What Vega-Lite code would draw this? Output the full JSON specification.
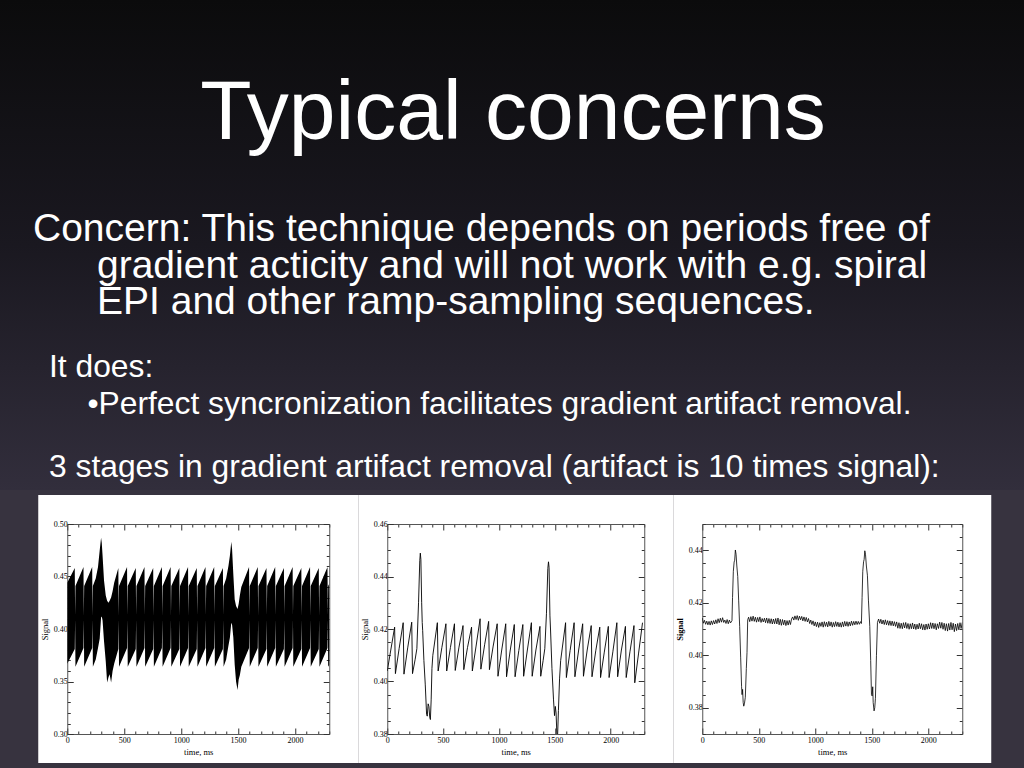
{
  "$schema": "https://vega.github.io/schema/vega-lite/v6.json",
  "background": "#37333f",
  "padding": {"left": 0, "top": 0, "right": 0, "bottom": 12},
  "center": true,
  "spacing": 1,
  "config": {"view": {"stroke": null}},
  "vconcat": [
    {
      "width": 1059,
      "height": 490,
      "layer": [
        {
          "data": {"values": [{"panel": "slide"}]},
          "mark": {"type": "rect", "color": {"gradient": "linear", "x1": 0, "y1": 0, "x2": 0, "y2": 1, "stops": [{"offset": 0, "color": "#0b0b0c"}, {"offset": 0.5, "color": "#1a1820"}, {"offset": 1, "color": "#322e3c"}]}},
          "encoding": {}
        },
        {
          "data": {"values": [
            {"kind": "title", "text": "Typical concerns", "line": 0, "indent": 15},
            {"kind": "concern", "text": "Concern: This technique depends on periods free of", "line": 3, "indent": 0},
            {"kind": "concern", "text": "gradient acticity and will not work with e.g. spiral", "line": 4.1, "indent": 2},
            {"kind": "concern", "text": "EPI and other ramp-sampling sequences.", "line": 5.15, "indent": 2},
            {"kind": "body", "text": "It does:", "line": 7, "indent": 0.5},
            {"kind": "body", "text": "•Perfect syncronization facilitates gradient artifact removal.", "line": 8.08, "indent": 1.7},
            {"kind": "body", "text": "3 stages in gradient artifact removal (artifact is 10 times signal):", "line": 9.95, "indent": 0.5}
          ]},
          "encoding": {
            "x": {"field": "indent", "type": "quantitative", "scale": {"domain": [-1.03125, 32.0625], "nice": false, "zero": false}, "axis": null},
            "y": {"field": "line", "type": "quantitative", "scale": {"domain": [-4.069, 10.317], "reverse": true, "nice": false, "zero": false}, "axis": null},
            "text": {"field": "text"}
          },
          "layer": [
            {"transform": [{"filter": "datum.kind === 'title'"}], "mark": {"type": "text", "align": "center", "baseline": "alphabetic", "font": "Liberation Sans", "fontSize": 84, "color": "white"}},
            {"transform": [{"filter": "datum.kind === 'concern'"}], "mark": {"type": "text", "align": "left", "baseline": "alphabetic", "font": "Liberation Sans", "fontSize": 39, "color": "white"}},
            {"transform": [{"filter": "datum.kind === 'body'"}], "mark": {"type": "text", "align": "left", "baseline": "alphabetic", "font": "Liberation Sans", "fontSize": 31.8, "color": "white"}}
          ]
        }
      ]
    },
    {
      "hconcat": [
        {
          "width": 262,
          "height": 210,
          "view": {"fill": "white", "stroke": "white", "strokeWidth": 58},
          "data": {"values": [
            {"t": 0, "hi": 0.444, "lo": 0.367},
            {"t": 66, "hi": 0.458, "lo": 0.381}, {"t": 69, "hi": 0.413, "lo": 0.409}, {"t": 72, "hi": 0.441, "lo": 0.364},
            {"t": 142.5, "hi": 0.459, "lo": 0.382}, {"t": 145.5, "hi": 0.413, "lo": 0.409}, {"t": 148.5, "hi": 0.441, "lo": 0.364},
            {"t": 219, "hi": 0.459, "lo": 0.382}, {"t": 222, "hi": 0.413, "lo": 0.409}, {"t": 225, "hi": 0.441, "lo": 0.364},
            {"t": 250, "hi": 0.448, "lo": 0.371}, {"t": 270, "hi": 0.459, "lo": 0.382}, {"t": 285, "hi": 0.475, "lo": 0.391},
            {"t": 297, "hi": 0.487, "lo": 0.411}, {"t": 303, "hi": 0.482, "lo": 0.412}, {"t": 310, "hi": 0.47, "lo": 0.408},
            {"t": 323, "hi": 0.446, "lo": 0.388}, {"t": 338, "hi": 0.432, "lo": 0.369}, {"t": 350, "hi": 0.427, "lo": 0.349},
            {"t": 362, "hi": 0.425, "lo": 0.354}, {"t": 372, "hi": 0.427, "lo": 0.357}, {"t": 385, "hi": 0.43, "lo": 0.349},
            {"t": 398, "hi": 0.436, "lo": 0.36}, {"t": 412, "hi": 0.444, "lo": 0.367},
            {"t": 448.5, "hi": 0.458, "lo": 0.381}, {"t": 451.5, "hi": 0.413, "lo": 0.409}, {"t": 454.5, "hi": 0.441, "lo": 0.364},
            {"t": 525, "hi": 0.459, "lo": 0.382}, {"t": 528, "hi": 0.413, "lo": 0.409}, {"t": 531, "hi": 0.441, "lo": 0.364},
            {"t": 601.5, "hi": 0.458, "lo": 0.381}, {"t": 604.5, "hi": 0.413, "lo": 0.409}, {"t": 607.5, "hi": 0.441, "lo": 0.364},
            {"t": 678, "hi": 0.459, "lo": 0.382}, {"t": 681, "hi": 0.413, "lo": 0.409}, {"t": 684, "hi": 0.441, "lo": 0.364},
            {"t": 754.5, "hi": 0.458, "lo": 0.381}, {"t": 757.5, "hi": 0.413, "lo": 0.409}, {"t": 760.5, "hi": 0.441, "lo": 0.364},
            {"t": 831, "hi": 0.459, "lo": 0.382}, {"t": 834, "hi": 0.413, "lo": 0.409}, {"t": 837, "hi": 0.441, "lo": 0.364},
            {"t": 907.5, "hi": 0.459, "lo": 0.382}, {"t": 910.5, "hi": 0.413, "lo": 0.409}, {"t": 913.5, "hi": 0.441, "lo": 0.364},
            {"t": 984, "hi": 0.458, "lo": 0.381}, {"t": 987, "hi": 0.413, "lo": 0.409}, {"t": 990, "hi": 0.441, "lo": 0.364},
            {"t": 1060.5, "hi": 0.459, "lo": 0.382}, {"t": 1063.5, "hi": 0.413, "lo": 0.409}, {"t": 1066.5, "hi": 0.441, "lo": 0.364},
            {"t": 1137, "hi": 0.458, "lo": 0.381}, {"t": 1140, "hi": 0.413, "lo": 0.409}, {"t": 1143, "hi": 0.441, "lo": 0.364},
            {"t": 1213.5, "hi": 0.459, "lo": 0.382}, {"t": 1216.5, "hi": 0.413, "lo": 0.409}, {"t": 1219.5, "hi": 0.441, "lo": 0.364},
            {"t": 1290, "hi": 0.459, "lo": 0.382}, {"t": 1293, "hi": 0.413, "lo": 0.409}, {"t": 1296, "hi": 0.441, "lo": 0.364},
            {"t": 1366.5, "hi": 0.458, "lo": 0.381}, {"t": 1369.5, "hi": 0.413, "lo": 0.409}, {"t": 1372.5, "hi": 0.441, "lo": 0.364},
            {"t": 1395, "hi": 0.448, "lo": 0.371}, {"t": 1415, "hi": 0.46, "lo": 0.384}, {"t": 1428, "hi": 0.47, "lo": 0.392},
            {"t": 1440, "hi": 0.483, "lo": 0.406}, {"t": 1447, "hi": 0.476, "lo": 0.404}, {"t": 1458, "hi": 0.452, "lo": 0.392},
            {"t": 1470, "hi": 0.428, "lo": 0.366}, {"t": 1482, "hi": 0.422, "lo": 0.35}, {"t": 1495, "hi": 0.419, "lo": 0.342},
            {"t": 1505, "hi": 0.424, "lo": 0.352}, {"t": 1515, "hi": 0.432, "lo": 0.356}, {"t": 1528, "hi": 0.44, "lo": 0.364},
            {"t": 1596, "hi": 0.459, "lo": 0.382}, {"t": 1599, "hi": 0.413, "lo": 0.409}, {"t": 1602, "hi": 0.441, "lo": 0.364},
            {"t": 1672.5, "hi": 0.459, "lo": 0.382}, {"t": 1675.5, "hi": 0.413, "lo": 0.409}, {"t": 1678.5, "hi": 0.441, "lo": 0.364},
            {"t": 1749, "hi": 0.458, "lo": 0.381}, {"t": 1752, "hi": 0.413, "lo": 0.409}, {"t": 1755, "hi": 0.441, "lo": 0.364},
            {"t": 1825.5, "hi": 0.459, "lo": 0.382}, {"t": 1828.5, "hi": 0.413, "lo": 0.409}, {"t": 1831.5, "hi": 0.441, "lo": 0.364},
            {"t": 1902, "hi": 0.458, "lo": 0.381}, {"t": 1905, "hi": 0.413, "lo": 0.409}, {"t": 1908, "hi": 0.441, "lo": 0.364},
            {"t": 1978.5, "hi": 0.459, "lo": 0.382}, {"t": 1981.5, "hi": 0.413, "lo": 0.409}, {"t": 1984.5, "hi": 0.441, "lo": 0.364},
            {"t": 2055, "hi": 0.458, "lo": 0.381}, {"t": 2058, "hi": 0.413, "lo": 0.409}, {"t": 2061, "hi": 0.441, "lo": 0.364},
            {"t": 2131.5, "hi": 0.459, "lo": 0.382}, {"t": 2134.5, "hi": 0.413, "lo": 0.409}, {"t": 2137.5, "hi": 0.441, "lo": 0.364},
            {"t": 2208, "hi": 0.458, "lo": 0.381}, {"t": 2211, "hi": 0.413, "lo": 0.409}, {"t": 2214, "hi": 0.441, "lo": 0.364},
            {"t": 2284.5, "hi": 0.459, "lo": 0.382}, {"t": 2287.5, "hi": 0.413, "lo": 0.409}, {"t": 2290.5, "hi": 0.441, "lo": 0.364},
            {"t": 2300, "hi": 0.443, "lo": 0.366}
          ]},
          "resolve": {"axis": {"x": "independent", "y": "independent"}},
          "layer": [
            {
              "mark": {"type": "area", "color": "black", "clip": true},
              "encoding": {
                "x": {"field": "t", "type": "quantitative", "scale": {"domain": [0, 2300], "nice": false, "zero": false},
                  "axis": {"orient": "bottom", "title": "time, ms", "values": [0,100,200,300,400,500,600,700,800,900,1000,1100,1200,1300,1400,1500,1600,1700,1800,1900,2000,2100,2200,2300], "format": "d", "labelExpr": "datum.value % 500 === 0 ? datum.label : ''", "tickSize": {"condition": {"test": "datum.value % 500 === 0", "value": -6}, "value": -3}, "labelOverlap": false, "labelFlush": false, "grid": false, "domainColor": "#555", "tickColor": "#333", "labelFont": "Liberation Serif", "labelFontSize": 8, "labelColor": "black", "labelPadding": 8, "titleFont": "Liberation Serif", "titleFontSize": 8.5, "titleFontWeight": "normal", "titleColor": "black", "titlePadding": 0}},
                "y": {"field": "hi", "type": "quantitative", "scale": {"domain": [0.3, 0.5], "nice": false, "zero": false},
                  "axis": {"orient": "left", "title": "Signal", "values": [0.3,0.31,0.32,0.33,0.34,0.35,0.36,0.37,0.38,0.39,0.4,0.41,0.42,0.43,0.44,0.45,0.46,0.47,0.48,0.49,0.5], "format": ".2f", "labelExpr": "abs(datum.value*20 - round(datum.value*20)) < 0.001 ? datum.label : ''", "tickSize": {"condition": {"test": "abs(datum.value*20 - round(datum.value*20)) < 0.001", "value": -6}, "value": -3}, "labelOverlap": false, "labelFlush": false, "grid": false, "domainColor": "#555", "tickColor": "#333", "labelFont": "Liberation Serif", "labelFontSize": 8, "labelColor": "black", "labelPadding": 6, "titleFont": "Liberation Serif", "titleFontSize": 8.5, "titleFontWeight": "normal", "titleColor": "black", "titlePadding": 4}},
                "y2": {"field": "lo"}
              }
            },
            {
              "mark": {"type": "line", "opacity": 0},
              "encoding": {
                "x": {"field": "t", "type": "quantitative", "axis": {"orient": "top", "title": null, "labels": false, "values": [0,100,200,300,400,500,600,700,800,900,1000,1100,1200,1300,1400,1500,1600,1700,1800,1900,2000,2100,2200,2300], "tickSize": {"condition": {"test": "datum.value % 500 === 0", "value": -6}, "value": -3}, "grid": false, "domainColor": "#555", "tickColor": "#333"}},
                "y": {"field": "hi", "type": "quantitative", "axis": {"orient": "right", "title": null, "labels": false, "values": [0.3,0.31,0.32,0.33,0.34,0.35,0.36,0.37,0.38,0.39,0.4,0.41,0.42,0.43,0.44,0.45,0.46,0.47,0.48,0.49,0.5], "tickSize": {"condition": {"test": "abs(datum.value*20 - round(datum.value*20)) < 0.001", "value": -6}, "value": -3}, "grid": false, "domainColor": "#555", "tickColor": "#333"}}
              }
            }
          ]
        },
        {
          "width": 257,
          "height": 210,
          "view": {"fill": "white", "stroke": "white", "strokeWidth": 58},
          "data": {"values": [
            {"t": 0, "v": 0.404}, {"t": 66, "v": 0.4207}, {"t": 73, "v": 0.403}, {"t": 106, "v": 0.4125},
            {"t": 142.5, "v": 0.4224}, {"t": 149.5, "v": 0.4028}, {"t": 183, "v": 0.4128},
            {"t": 219, "v": 0.4226}, {"t": 226, "v": 0.403}, {"t": 250, "v": 0.4085}, {"t": 265, "v": 0.4125},
            {"t": 280, "v": 0.43}, {"t": 291, "v": 0.446}, {"t": 296, "v": 0.4489}, {"t": 301, "v": 0.4465},
            {"t": 308, "v": 0.43}, {"t": 313, "v": 0.4225}, {"t": 317, "v": 0.4195}, {"t": 328, "v": 0.408},
            {"t": 340, "v": 0.399}, {"t": 352, "v": 0.3875}, {"t": 358, "v": 0.3868}, {"t": 366, "v": 0.3915},
            {"t": 373, "v": 0.3905}, {"t": 380, "v": 0.3865}, {"t": 386, "v": 0.3855}, {"t": 393, "v": 0.393},
            {"t": 400, "v": 0.405}, {"t": 408, "v": 0.41},
            {"t": 448.5, "v": 0.4224}, {"t": 455.5, "v": 0.404}, {"t": 489, "v": 0.413},
            {"t": 525, "v": 0.422}, {"t": 532, "v": 0.404}, {"t": 565.5, "v": 0.413},
            {"t": 601.5, "v": 0.422}, {"t": 608.5, "v": 0.4042}, {"t": 642, "v": 0.4131},
            {"t": 678, "v": 0.4213}, {"t": 685, "v": 0.4045}, {"t": 718.5, "v": 0.413},
            {"t": 754.5, "v": 0.4207}, {"t": 761.5, "v": 0.404}, {"t": 795, "v": 0.4135},
            {"t": 831, "v": 0.4239}, {"t": 838, "v": 0.4047}, {"t": 871.5, "v": 0.414},
            {"t": 907.5, "v": 0.4229}, {"t": 914.5, "v": 0.4045}, {"t": 948, "v": 0.4135},
            {"t": 984, "v": 0.422}, {"t": 991, "v": 0.402}, {"t": 1024.5, "v": 0.412},
            {"t": 1060.5, "v": 0.422}, {"t": 1067.5, "v": 0.4018}, {"t": 1101, "v": 0.412},
            {"t": 1137, "v": 0.4217}, {"t": 1144, "v": 0.4018}, {"t": 1177.5, "v": 0.4118},
            {"t": 1213.5, "v": 0.4217}, {"t": 1220.5, "v": 0.402}, {"t": 1254, "v": 0.412},
            {"t": 1290, "v": 0.4224}, {"t": 1297, "v": 0.402}, {"t": 1330.5, "v": 0.412},
            {"t": 1366.5, "v": 0.421}, {"t": 1373.5, "v": 0.402}, {"t": 1395, "v": 0.408}, {"t": 1410, "v": 0.4125},
            {"t": 1425, "v": 0.426}, {"t": 1437, "v": 0.443}, {"t": 1443, "v": 0.4456}, {"t": 1448, "v": 0.4435},
            {"t": 1456, "v": 0.425}, {"t": 1461, "v": 0.42}, {"t": 1474, "v": 0.405}, {"t": 1488, "v": 0.393},
            {"t": 1497, "v": 0.387}, {"t": 1504, "v": 0.3905}, {"t": 1511, "v": 0.388}, {"t": 1518, "v": 0.38},
            {"t": 1524, "v": 0.3788}, {"t": 1532, "v": 0.389}, {"t": 1542, "v": 0.401}, {"t": 1552, "v": 0.408},
            {"t": 1596, "v": 0.4224}, {"t": 1603, "v": 0.4015}, {"t": 1636.5, "v": 0.4118},
            {"t": 1672.5, "v": 0.4224}, {"t": 1679.5, "v": 0.4018}, {"t": 1713, "v": 0.412},
            {"t": 1749, "v": 0.422}, {"t": 1756, "v": 0.402}, {"t": 1789.5, "v": 0.412},
            {"t": 1825.5, "v": 0.4213}, {"t": 1832.5, "v": 0.4018}, {"t": 1866, "v": 0.4117},
            {"t": 1902, "v": 0.4207}, {"t": 1909, "v": 0.4015}, {"t": 1942.5, "v": 0.4112},
            {"t": 1978.5, "v": 0.421}, {"t": 1985.5, "v": 0.4015}, {"t": 2019, "v": 0.4113},
            {"t": 2055, "v": 0.4224}, {"t": 2062, "v": 0.4018}, {"t": 2095.5, "v": 0.412},
            {"t": 2131.5, "v": 0.421}, {"t": 2138.5, "v": 0.4015}, {"t": 2172, "v": 0.4113},
            {"t": 2208, "v": 0.4213}, {"t": 2215, "v": 0.3995}, {"t": 2248.5, "v": 0.4105},
            {"t": 2284.5, "v": 0.4224}
          ]},
          "resolve": {"axis": {"x": "independent", "y": "independent"}},
          "layer": [
            {
              "mark": {"type": "line", "color": "black", "strokeWidth": 0.9, "clip": true},
              "encoding": {
                "x": {"field": "t", "type": "quantitative", "scale": {"domain": [0, 2300], "nice": false, "zero": false},
                  "axis": {"orient": "bottom", "title": "time, ms", "values": [0,100,200,300,400,500,600,700,800,900,1000,1100,1200,1300,1400,1500,1600,1700,1800,1900,2000,2100,2200,2300], "format": "d", "labelExpr": "datum.value % 500 === 0 ? datum.label : ''", "tickSize": {"condition": {"test": "datum.value % 500 === 0", "value": -6}, "value": -3}, "labelOverlap": false, "labelFlush": false, "grid": false, "domainColor": "#555", "tickColor": "#333", "labelFont": "Liberation Serif", "labelFontSize": 8, "labelColor": "black", "labelPadding": 8, "titleFont": "Liberation Serif", "titleFontSize": 8.5, "titleFontWeight": "normal", "titleColor": "black", "titlePadding": 0}},
                "y": {"field": "v", "type": "quantitative", "scale": {"domain": [0.38, 0.46], "nice": false, "zero": false},
                  "axis": {"orient": "left", "title": "Signal", "values": [0.38,0.385,0.39,0.395,0.4,0.405,0.41,0.415,0.42,0.425,0.43,0.435,0.44,0.445,0.45,0.455,0.46], "format": ".2f", "labelExpr": "abs(datum.value*50 - round(datum.value*50)) < 0.001 ? datum.label : ''", "tickSize": {"condition": {"test": "abs(datum.value*50 - round(datum.value*50)) < 0.001", "value": -6}, "value": -3}, "labelOverlap": false, "labelFlush": false, "grid": false, "domainColor": "#555", "tickColor": "#333", "labelFont": "Liberation Serif", "labelFontSize": 8, "labelColor": "black", "labelPadding": 6, "titleFont": "Liberation Serif", "titleFontSize": 8.5, "titleFontWeight": "normal", "titleColor": "black", "titlePadding": 4}}
              }
            },
            {
              "mark": {"type": "line", "opacity": 0},
              "encoding": {
                "x": {"field": "t", "type": "quantitative", "axis": {"orient": "top", "title": null, "labels": false, "values": [0,100,200,300,400,500,600,700,800,900,1000,1100,1200,1300,1400,1500,1600,1700,1800,1900,2000,2100,2200,2300], "tickSize": {"condition": {"test": "datum.value % 500 === 0", "value": -6}, "value": -3}, "grid": false, "domainColor": "#555", "tickColor": "#333"}},
                "y": {"field": "v", "type": "quantitative", "axis": {"orient": "right", "title": null, "labels": false, "values": [0.38,0.385,0.39,0.395,0.4,0.405,0.41,0.415,0.42,0.425,0.43,0.435,0.44,0.445,0.45,0.455,0.46], "tickSize": {"condition": {"test": "abs(datum.value*50 - round(datum.value*50)) < 0.001", "value": -6}, "value": -3}, "grid": false, "domainColor": "#555", "tickColor": "#333"}}
              }
            }
          ]
        },
        {
          "width": 260,
          "height": 210,
          "view": {"fill": "white", "stroke": "white", "strokeWidth": 58},
          "data": {"values": [
            {"t": 0, "v": 0.4142}, {"t": 10, "v": 0.4122}, {"t": 20, "v": 0.4133}, {"t": 30, "v": 0.4118}, {"t": 40, "v": 0.413},
            {"t": 50, "v": 0.4116}, {"t": 60, "v": 0.4129}, {"t": 70, "v": 0.4115}, {"t": 80, "v": 0.4131}, {"t": 90, "v": 0.4117},
            {"t": 100, "v": 0.4132}, {"t": 110, "v": 0.4119}, {"t": 120, "v": 0.4135}, {"t": 130, "v": 0.4121}, {"t": 140, "v": 0.4139},
            {"t": 150, "v": 0.4124}, {"t": 160, "v": 0.4141}, {"t": 170, "v": 0.4126}, {"t": 180, "v": 0.4143}, {"t": 190, "v": 0.4125},
            {"t": 200, "v": 0.4134}, {"t": 210, "v": 0.4121}, {"t": 220, "v": 0.4136}, {"t": 230, "v": 0.412}, {"t": 240, "v": 0.4134},
            {"t": 250, "v": 0.4123}, {"t": 263, "v": 0.4132}, {"t": 268, "v": 0.422}, {"t": 275, "v": 0.432}, {"t": 282, "v": 0.4355},
            {"t": 287, "v": 0.4362}, {"t": 293, "v": 0.4401}, {"t": 299, "v": 0.4385}, {"t": 306, "v": 0.434}, {"t": 314, "v": 0.43},
            {"t": 322, "v": 0.421}, {"t": 331, "v": 0.411}, {"t": 340, "v": 0.399}, {"t": 348, "v": 0.388}, {"t": 352, "v": 0.385},
            {"t": 357, "v": 0.387}, {"t": 362, "v": 0.382}, {"t": 367, "v": 0.3806}, {"t": 373, "v": 0.3815}, {"t": 381, "v": 0.384},
            {"t": 390, "v": 0.395}, {"t": 396, "v": 0.401}, {"t": 402, "v": 0.4135},
            {"t": 410, "v": 0.4145}, {"t": 420, "v": 0.4128}, {"t": 430, "v": 0.4147}, {"t": 440, "v": 0.413}, {"t": 450, "v": 0.4149},
            {"t": 460, "v": 0.4129}, {"t": 470, "v": 0.4145}, {"t": 480, "v": 0.4126}, {"t": 490, "v": 0.4144}, {"t": 500, "v": 0.4128},
            {"t": 510, "v": 0.4146}, {"t": 520, "v": 0.4125}, {"t": 530, "v": 0.414}, {"t": 540, "v": 0.4127}, {"t": 550, "v": 0.4141},
            {"t": 560, "v": 0.4124}, {"t": 570, "v": 0.4142}, {"t": 580, "v": 0.4122}, {"t": 590, "v": 0.414}, {"t": 600, "v": 0.4121},
            {"t": 610, "v": 0.4139}, {"t": 620, "v": 0.4119}, {"t": 630, "v": 0.4138}, {"t": 640, "v": 0.412}, {"t": 650, "v": 0.414},
            {"t": 660, "v": 0.4119}, {"t": 670, "v": 0.4142}, {"t": 680, "v": 0.4116}, {"t": 690, "v": 0.4137}, {"t": 700, "v": 0.4114},
            {"t": 710, "v": 0.4136}, {"t": 720, "v": 0.4116}, {"t": 730, "v": 0.4134}, {"t": 740, "v": 0.4113}, {"t": 750, "v": 0.4132},
            {"t": 760, "v": 0.4115}, {"t": 770, "v": 0.4133}, {"t": 780, "v": 0.4117}, {"t": 790, "v": 0.4138}, {"t": 800, "v": 0.4146},
            {"t": 810, "v": 0.4134}, {"t": 820, "v": 0.415}, {"t": 830, "v": 0.4136}, {"t": 840, "v": 0.4151}, {"t": 850, "v": 0.4133},
            {"t": 860, "v": 0.4149}, {"t": 870, "v": 0.4135}, {"t": 880, "v": 0.4148}, {"t": 890, "v": 0.4131}, {"t": 900, "v": 0.4146},
            {"t": 910, "v": 0.4129}, {"t": 920, "v": 0.4144}, {"t": 930, "v": 0.4127}, {"t": 940, "v": 0.414}, {"t": 950, "v": 0.4121},
            {"t": 960, "v": 0.4134}, {"t": 970, "v": 0.4117}, {"t": 980, "v": 0.4131}, {"t": 990, "v": 0.4112}, {"t": 1000, "v": 0.4127},
            {"t": 1010, "v": 0.4109}, {"t": 1020, "v": 0.4126}, {"t": 1030, "v": 0.4106}, {"t": 1040, "v": 0.4124}, {"t": 1050, "v": 0.411},
            {"t": 1060, "v": 0.4127}, {"t": 1070, "v": 0.4107}, {"t": 1080, "v": 0.4128}, {"t": 1090, "v": 0.411}, {"t": 1100, "v": 0.4126},
            {"t": 1110, "v": 0.4108}, {"t": 1120, "v": 0.4129}, {"t": 1130, "v": 0.4111}, {"t": 1140, "v": 0.4127}, {"t": 1150, "v": 0.4107},
            {"t": 1160, "v": 0.4125}, {"t": 1170, "v": 0.4109}, {"t": 1180, "v": 0.4128}, {"t": 1190, "v": 0.411}, {"t": 1200, "v": 0.4126},
            {"t": 1210, "v": 0.4108}, {"t": 1220, "v": 0.4124}, {"t": 1230, "v": 0.4107}, {"t": 1240, "v": 0.4127}, {"t": 1250, "v": 0.4109},
            {"t": 1260, "v": 0.4129}, {"t": 1270, "v": 0.4111}, {"t": 1280, "v": 0.4128}, {"t": 1290, "v": 0.411}, {"t": 1300, "v": 0.4127},
            {"t": 1310, "v": 0.4112}, {"t": 1320, "v": 0.413}, {"t": 1330, "v": 0.4114}, {"t": 1340, "v": 0.4129}, {"t": 1350, "v": 0.4116},
            {"t": 1360, "v": 0.413}, {"t": 1370, "v": 0.4117}, {"t": 1380, "v": 0.4129}, {"t": 1390, "v": 0.4118}, {"t": 1400, "v": 0.4128},
            {"t": 1408, "v": 0.4121}, {"t": 1414, "v": 0.422}, {"t": 1420, "v": 0.432}, {"t": 1427, "v": 0.4356}, {"t": 1432, "v": 0.4365},
            {"t": 1438, "v": 0.4398}, {"t": 1444, "v": 0.4385}, {"t": 1452, "v": 0.434}, {"t": 1461, "v": 0.4305}, {"t": 1470, "v": 0.421},
            {"t": 1482, "v": 0.411}, {"t": 1490, "v": 0.398}, {"t": 1497, "v": 0.385}, {"t": 1503, "v": 0.3845}, {"t": 1508, "v": 0.388},
            {"t": 1512, "v": 0.382}, {"t": 1520, "v": 0.3788}, {"t": 1526, "v": 0.38}, {"t": 1532, "v": 0.3836}, {"t": 1541, "v": 0.3998},
            {"t": 1550, "v": 0.4125},
            {"t": 1560, "v": 0.4138}, {"t": 1570, "v": 0.4122}, {"t": 1580, "v": 0.4137}, {"t": 1590, "v": 0.4119}, {"t": 1600, "v": 0.4134},
            {"t": 1610, "v": 0.4117}, {"t": 1620, "v": 0.4135}, {"t": 1630, "v": 0.4116}, {"t": 1640, "v": 0.4132}, {"t": 1650, "v": 0.4114},
            {"t": 1660, "v": 0.4131}, {"t": 1670, "v": 0.4113}, {"t": 1680, "v": 0.413}, {"t": 1690, "v": 0.4112}, {"t": 1700, "v": 0.4128},
            {"t": 1710, "v": 0.411}, {"t": 1720, "v": 0.4127}, {"t": 1730, "v": 0.4103}, {"t": 1740, "v": 0.4124}, {"t": 1750, "v": 0.4102},
            {"t": 1760, "v": 0.4122}, {"t": 1770, "v": 0.4101}, {"t": 1780, "v": 0.4124}, {"t": 1790, "v": 0.4104}, {"t": 1800, "v": 0.4125},
            {"t": 1810, "v": 0.4102}, {"t": 1820, "v": 0.4121}, {"t": 1830, "v": 0.4099}, {"t": 1840, "v": 0.412}, {"t": 1850, "v": 0.4101},
            {"t": 1860, "v": 0.4123}, {"t": 1870, "v": 0.41}, {"t": 1880, "v": 0.4119}, {"t": 1890, "v": 0.4098}, {"t": 1900, "v": 0.4118},
            {"t": 1910, "v": 0.41}, {"t": 1920, "v": 0.4122}, {"t": 1930, "v": 0.4101}, {"t": 1940, "v": 0.412}, {"t": 1950, "v": 0.4097},
            {"t": 1960, "v": 0.4117}, {"t": 1970, "v": 0.4096}, {"t": 1980, "v": 0.4119}, {"t": 1990, "v": 0.4099}, {"t": 2000, "v": 0.412},
            {"t": 2010, "v": 0.41}, {"t": 2020, "v": 0.4124}, {"t": 2030, "v": 0.4102}, {"t": 2040, "v": 0.4123}, {"t": 2050, "v": 0.4101},
            {"t": 2060, "v": 0.4121}, {"t": 2070, "v": 0.4097}, {"t": 2080, "v": 0.412}, {"t": 2090, "v": 0.4102}, {"t": 2100, "v": 0.4126},
            {"t": 2110, "v": 0.4103}, {"t": 2120, "v": 0.4125}, {"t": 2130, "v": 0.4099}, {"t": 2140, "v": 0.4122}, {"t": 2150, "v": 0.4094},
            {"t": 2160, "v": 0.412}, {"t": 2170, "v": 0.4092}, {"t": 2180, "v": 0.4121}, {"t": 2190, "v": 0.4096}, {"t": 2200, "v": 0.4125},
            {"t": 2210, "v": 0.4097}, {"t": 2220, "v": 0.4122}, {"t": 2230, "v": 0.409}, {"t": 2240, "v": 0.4119}, {"t": 2250, "v": 0.4094},
            {"t": 2260, "v": 0.4121}, {"t": 2270, "v": 0.4097}, {"t": 2280, "v": 0.4124}, {"t": 2290, "v": 0.4102}, {"t": 2300, "v": 0.4125}
          ]},
          "resolve": {"axis": {"x": "independent", "y": "independent"}},
          "layer": [
            {
              "mark": {"type": "line", "color": "black", "strokeWidth": 0.8, "clip": true},
              "encoding": {
                "x": {"field": "t", "type": "quantitative", "scale": {"domain": [0, 2300], "nice": false, "zero": false},
                  "axis": {"orient": "bottom", "title": "time, ms", "values": [0,100,200,300,400,500,600,700,800,900,1000,1100,1200,1300,1400,1500,1600,1700,1800,1900,2000,2100,2200,2300], "format": "d", "labelExpr": "datum.value % 500 === 0 ? datum.label : ''", "tickSize": {"condition": {"test": "datum.value % 500 === 0", "value": -6}, "value": -3}, "labelOverlap": false, "labelFlush": false, "grid": false, "domainColor": "#555", "tickColor": "#333", "labelFont": "Liberation Serif", "labelFontSize": 8, "labelColor": "black", "labelPadding": 8, "titleFont": "Liberation Serif", "titleFontSize": 8.5, "titleFontWeight": "normal", "titleColor": "black", "titlePadding": 0}},
                "y": {"field": "v", "type": "quantitative", "scale": {"domain": [0.37, 0.45], "nice": false, "zero": false},
                  "axis": {"orient": "left", "title": "Signal", "values": [0.37,0.375,0.38,0.385,0.39,0.395,0.4,0.405,0.41,0.415,0.42,0.425,0.43,0.435,0.44,0.445,0.45], "format": ".2f", "labelExpr": "abs(datum.value*50 - round(datum.value*50)) < 0.001 ? datum.label : ''", "tickSize": {"condition": {"test": "abs(datum.value*50 - round(datum.value*50)) < 0.001", "value": -6}, "value": -3}, "labelOverlap": false, "labelFlush": false, "grid": false, "domainColor": "#555", "tickColor": "#333", "labelFont": "Liberation Serif", "labelFontSize": 8, "labelColor": "black", "labelPadding": 6, "titleFont": "Liberation Serif", "titleFontSize": 8.5, "titleFontWeight": "bold", "titleColor": "black", "titlePadding": 4}}
              }
            },
            {
              "mark": {"type": "line", "opacity": 0},
              "encoding": {
                "x": {"field": "t", "type": "quantitative", "axis": {"orient": "top", "title": null, "labels": false, "values": [0,100,200,300,400,500,600,700,800,900,1000,1100,1200,1300,1400,1500,1600,1700,1800,1900,2000,2100,2200,2300], "tickSize": {"condition": {"test": "datum.value % 500 === 0", "value": -6}, "value": -3}, "grid": false, "domainColor": "#555", "tickColor": "#333"}},
                "y": {"field": "v", "type": "quantitative", "axis": {"orient": "right", "title": null, "labels": false, "values": [0.37,0.375,0.38,0.385,0.39,0.395,0.4,0.405,0.41,0.415,0.42,0.425,0.43,0.435,0.44,0.445,0.45], "tickSize": {"condition": {"test": "abs(datum.value*50 - round(datum.value*50)) < 0.001", "value": -6}, "value": -3}, "grid": false, "domainColor": "#555", "tickColor": "#333"}}
              }
            }
          ]
        }
      ],
      "spacing": 58,
      "bounds": "flush"
    }
  ]
}
